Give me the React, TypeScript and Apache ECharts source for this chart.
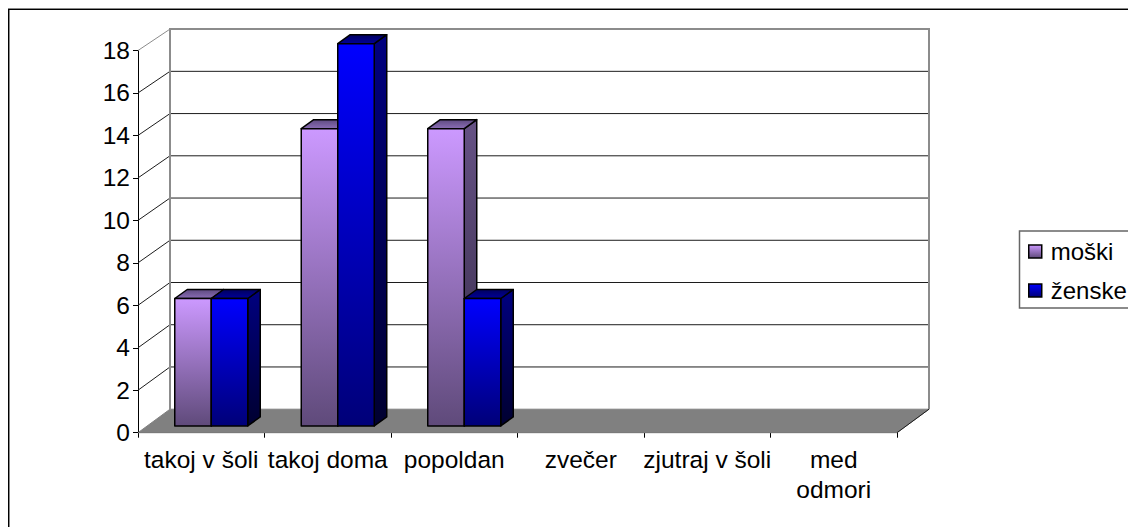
import React, { useEffect, useRef } from "react";
import * as echarts from "echarts";

const categories = ["takoj v šoli", "takoj doma", "popoldan", "zvečer", "zjutraj v šoli", "med\nodmori"];
const moski = [6, 14, 14, 0, 0, 0];
const zenske = [6, 18, 6, 0, 0, 0];
const yTicks = [0, 2, 4, 6, 8, 10, 12, 14, 16, 18];
const seriesNames = ["moški", "ženske"];

const FONT = "'Liberation Sans', Arial, sans-serif";
const DEPTH_X = 32;
const DEPTH_Y_BOTTOM = -23.5;
const DEPTH_Y_TOP = -21.4;
const BAR_OFF_X = 10;
const BAR_OFF_Y = -6.8;
const BAR_DX = 12.5;
const BAR_DY = -9;
const BAR_W = 36.5;

const grad = (a: string, b: string) =>
  new echarts.graphic.LinearGradient(0, 0, 0, 1, [
    { offset: 0, color: a },
    { offset: 1, color: b },
  ]);

const palettes = [
  { front: ["#CC99FF", "#5F4A7A"], side: ["#665285", "#352A47"], top: ["#5E4A80", "#8A6DB5"] },
  { front: ["#0000FF", "#000078"], side: ["#000080", "#000030"], top: ["#000060", "#000098"] },
];

function wallItem(_p: any, api: any) {
  const first = api.coord([0, 0]);
  const band = api.size([1, 0])[0];
  const xL = first[0] - band / 2;
  const xR = xL + band * categories.length;
  const y0 = first[1];
  const maxT = yTicks[yTicks.length - 1];
  const back = (t: number) =>
    api.coord([0, t])[1] + DEPTH_Y_BOTTOM + ((DEPTH_Y_TOP - DEPTH_Y_BOTTOM) * t) / maxT;
  const children: any[] = [];
  children.push({
    type: "polygon",
    shape: { points: [[xL, y0], [xR, y0], [xR + DEPTH_X, back(0)], [xL + DEPTH_X, back(0)]] },
    style: { fill: "#808080", stroke: "#808080", lineWidth: 1 },
  });
  yTicks.forEach((t) => {
    const y = api.coord([0, t])[1];
    if (t > 0 && t < maxT) {
      children.push({
        type: "line",
        shape: { x1: xL + DEPTH_X, y1: back(t), x2: xR + DEPTH_X, y2: back(t) },
        style: { stroke: "#1c1c1c", lineWidth: 1 },
      });
    }
    if (t > 0) {
      children.push({
        type: "line",
        shape: { x1: xL, y1: y, x2: xL + DEPTH_X, y2: back(t) },
        style: { stroke: t === maxT ? "#8c8c8c" : "#1c1c1c", lineWidth: 1 },
      });
    }
  });
  const gray = { stroke: "#8c8c8c", lineWidth: 2, fill: "none" };
  children.push({
    type: "polyline",
    shape: { points: [[xL + DEPTH_X, back(0)], [xL + DEPTH_X, back(maxT)], [xR + DEPTH_X, back(maxT)], [xR + DEPTH_X, back(0)]] },
    style: gray,
  });
  children.push({
    type: "line",
    shape: { x1: xR, y1: y0, x2: xR + DEPTH_X, y2: back(0) },
    style: { stroke: "#1c1c1c", lineWidth: 1 },
  });
  return { type: "group", children };
}

const barItem = (idx: number) => (_p: any, api: any) => {
  const v = api.value(1);
  if (!v) return null;
  const c = api.coord([api.value(0), v]);
  const base = api.coord([api.value(0), 0]);
  const x0 = c[0] + BAR_OFF_X + (idx === 0 ? -BAR_W : 0);
  const x1 = x0 + BAR_W;
  const yT = c[1] + BAR_OFF_Y;
  const yB = base[1] + BAR_OFF_Y;
  const p = palettes[idx];
  const edge = { stroke: "#000000", lineWidth: 1.5, lineJoin: "round" };
  return {
    type: "group",
    children: [
      {
        type: "polygon",
        shape: { points: [[x1, yT], [x1 + BAR_DX, yT + BAR_DY], [x1 + BAR_DX, yB + BAR_DY], [x1, yB]] },
        style: { fill: grad(p.side[0], p.side[1]), ...edge },
      },
      {
        type: "polygon",
        shape: { points: [[x0, yT], [x0 + BAR_DX, yT + BAR_DY], [x1 + BAR_DX, yT + BAR_DY], [x1, yT]] },
        style: { fill: grad(p.top[0], p.top[1]), ...edge },
      },
      {
        type: "rect",
        shape: { x: x0, y: yT, width: BAR_W, height: yB - yT },
        style: { fill: grad(p.front[0], p.front[1]), ...edge },
      },
    ],
  };
};

export default function App() {
  const ref = useRef<HTMLDivElement>(null);
  useEffect(() => {
    const chart = echarts.init(ref.current!, undefined, { renderer: "svg" });
    chart.setOption({
      animation: false,
      backgroundColor: "#ffffff",
      textStyle: { fontFamily: FONT },
      grid: { left: 138, right: 231, top: 50.5, bottom: 94.3, containLabel: false },
      xAxis: {
        type: "category",
        data: categories,
        boundaryGap: true,
        axisLine: { onZero: false, lineStyle: { color: "#000", width: 1 } },
        axisTick: { show: true, alignWithLabel: false, length: 5, lineStyle: { color: "#000" } },
        axisLabel: { color: "#000", fontSize: 24.5, fontFamily: FONT, margin: 12, interval: 0, lineHeight: 30, hideOverlap: false },
        splitLine: { show: false },
      },
      yAxis: {
        type: "value",
        min: 0,
        max: 18,
        interval: 2,
        axisLine: { show: true, lineStyle: { color: "#000", width: 1 } },
        axisTick: { show: true, length: 5, lineStyle: { color: "#000" } },
        axisLabel: { color: "#000", fontSize: 24.5, fontFamily: FONT, margin: 8 },
        splitLine: { show: false },
      },
      legend: {
        left: 1028,
        top: 237.5,
        padding: 0,
        orient: "vertical",
        itemWidth: 13,
        itemHeight: 13,
        itemGap: 11,
        icon: "rect",
        textStyle: { color: "#000", fontSize: 24, fontFamily: FONT, padding: [0, 0, 0, 4], lineHeight: 28 },
        data: seriesNames.map((name, i) => ({
          name,
          icon: "rect",
          itemStyle: { color: grad(palettes[i].front[0], palettes[i].front[1]), borderColor: "#000", borderWidth: 1.5 },
        })),
      },
      graphic: [
        { type: "line", silent: true, shape: { x1: 8.5, y1: 8, x2: 8.5, y2: 527 }, style: { stroke: "#000", lineWidth: 1 } },
        { type: "line", silent: true, shape: { x1: 9.5, y1: 9, x2: 9.5, y2: 527 }, style: { stroke: "#888", lineWidth: 1 } },
        { type: "line", silent: true, shape: { x1: 8, y1: 8.5, x2: 1128, y2: 8.5 }, style: { stroke: "#888", lineWidth: 1 } },
        { type: "line", silent: true, shape: { x1: 9, y1: 9.5, x2: 1128, y2: 9.5 }, style: { stroke: "#000", lineWidth: 1 } },
        { type: "rect", silent: true, shape: { x: 1019.5, y: 231, width: 130, height: 77 }, style: { fill: "none", stroke: "#666", lineWidth: 1.5 } },
      ],
      series: [
        { name: "_walls", type: "custom", renderItem: wallItem, data: [[0, 0]], encode: { x: 0, y: 1 }, clip: false, silent: true, z: 1 },
        {
          name: seriesNames[0],
          type: "custom",
          renderItem: barItem(0),
          data: moski.map((v, i) => [i, v]),
          encode: { x: 0, y: 1 },
          clip: false,
          z: 2,
        },
        {
          name: seriesNames[1],
          type: "custom",
          renderItem: barItem(1),
          data: zenske.map((v, i) => [i, v]),
          encode: { x: 0, y: 1 },
          clip: false,
          z: 3,
        },
      ],
    });
    return () => chart.dispose();
  }, []);
  return <div ref={ref} style={{ position: "absolute", left: 0, top: 0, width: 1128, height: 527 }} />;
}
